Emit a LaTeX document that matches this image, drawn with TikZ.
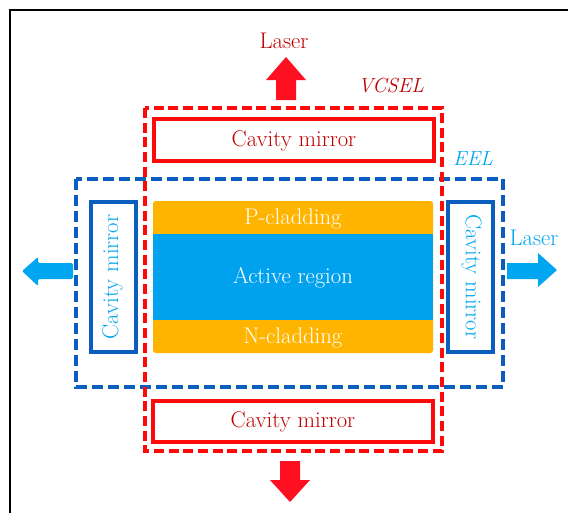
\documentclass[tikz,border=0pt]{standalone}
\usepackage{fontspec}
\definecolor{dred}{HTML}{C00000}
\definecolor{vred}{HTML}{FF0A0A}
\definecolor{ared}{HTML}{FF1020}
\definecolor{dblue}{HTML}{0A5EBE}
\definecolor{lblue}{HTML}{00A6F0}
\definecolor{actblue}{HTML}{00A2EE}
\definecolor{gold}{HTML}{FFB500}
\newcommand{\heavy}{\addfontfeature{FakeBold=0.6,FakeStretch=0.88}}
\newcommand{\heavyit}{\addfontfeature{FakeBold=0.6,FakeStretch=0.94}}
\begin{document}
\begin{tikzpicture}[x=0.75pt,y=-0.75pt,
  txt/.style={inner sep=0pt,font=\rmfamily\fontsize{17}{19}\selectfont\heavy},
  lbl/.style={inner sep=0pt,font=\rmfamily\fontsize{17}{19}\selectfont\heavy},
  itl/.style={inner sep=0pt,font=\rmfamily\itshape\fontsize{15.3}{17}\selectfont\heavyit},
  vbox/.style={draw=vred,line width=3pt,dash pattern=on 7.5pt off 3.5pt},
  ebox/.style={draw=dblue,line width=3pt,dash pattern=on 8pt off 4pt},
  rmirror/.style={draw=vred,line width=3pt,fill=white},
  bmirror/.style={draw=dblue,line width=3pt,fill=white},
  layer/.style={rounded corners=2pt}]
\useasboundingbox (0,0) rectangle (568,512);
\fill[white] (0,0) rectangle (568,512);
% frame
\draw[line width=2pt,black] (10,520) -- (10,10) -- (580,10);
% layers
\fill[gold,layer] (153,201) rectangle (433,353);
\fill[actblue] (153,234) rectangle (433,320);
\node[txt,text=white] (pc) at (293,219) {P-cladding};
\node[txt,text=white] (ar) at (293,278) {Active region};
\node[txt,text=white] (nc) at (293,338) {N-cladding};
% EEL
\draw[ebox] (76,179) rectangle (503,387);
\draw[bmirror] (91,202) rectangle (136,352);
\draw[bmirror] (448,202) rectangle (493,352);
\node[txt,text=lblue,rotate=90] (lm) at (112.5,277) {Cavity mirror};
\node[txt,text=lblue,rotate=-90] (rm) at (471.5,277) {Cavity mirror};
\node[itl,text=lblue] (eel) at (473,159) {EEL};
% VCSEL
\draw[vbox] (145,108) rectangle (442,451);
\draw[rmirror] (154,119) rectangle (434,161);
\draw[rmirror] (153,401) rectangle (433,442);
\node[txt,text=dred] (tm) at (294,141) {Cavity mirror};
\node[txt,text=dred] (bm) at (293,422) {Cavity mirror};
\node[itl,text=dred] (vc) at (391,86) {VCSEL};
% arrows
\fill[ared] (276,100) -- (276,80) -- (266,80) -- (286,57) -- (306,80) -- (296,80) -- (296,100) -- cycle;
\node[lbl,text=dred] (tl) at (284,41) {Laser};
\fill[ared] (280,461) -- (300,461) -- (300,480) -- (310,480) -- (290,502) -- (270,480) -- (280,480) -- cycle;
\fill[lblue,rounded corners=1pt] (73,263) -- (38,263) -- (38,257) -- (22,271) -- (38,286) -- (38,279) -- (73,279) -- cycle;
\fill[lblue] (507,263) -- (538,263) -- (538,253) -- (557,270) -- (538,287) -- (538,279) -- (507,279) -- cycle;
\node[lbl,text=lblue] (rl) at (534,238) {Laser};
\end{tikzpicture}
\end{document}
